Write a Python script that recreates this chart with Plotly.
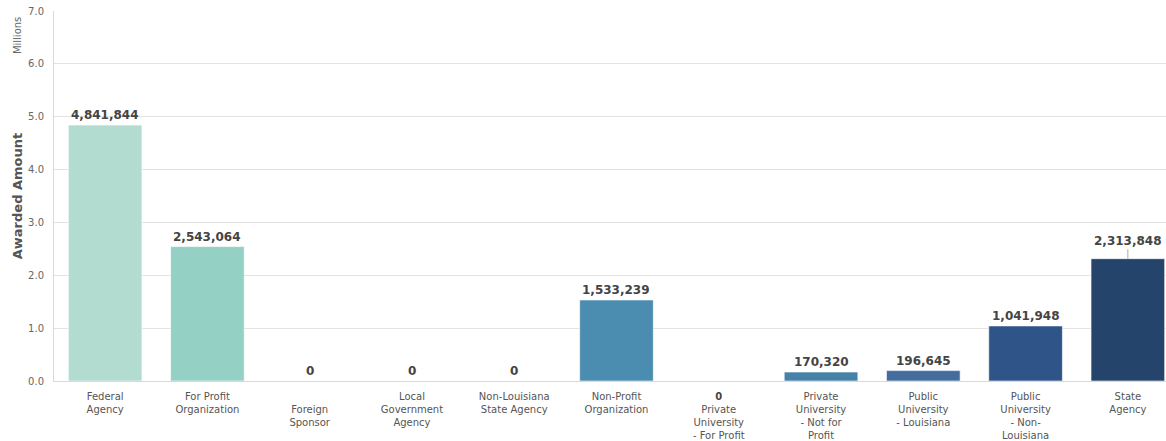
import plotly.graph_objects as go

categories = ["Federal Agency", "For Profit Organization", "Foreign Sponsor",
              "Local Government Agency", "Non-Louisiana State Agency",
              "Non-Profit Organization", "Private University - For Profit",
              "Private University - Not for Profit", "Public University - Louisiana",
              "Public University - Non-Louisiana", "State Agency"]
values = [4841844, 2543064, 0, 0, 0, 1533239, 0, 170320, 196645, 1041948, 2313848]
tick_labels = ["Federal<br>Agency", "For Profit<br>Organization", " <br>Foreign<br>Sponsor",
               "Local<br>Government<br>Agency", "Non-Louisiana<br>State Agency",
               "Non-Profit<br>Organization",
               "<span style='color:#444444'><b>0</b></span><br>Private<br>University<br>- For Profit",
               "Private<br>University<br>- Not for<br>Profit", "Public<br>University<br>- Louisiana",
               "Public<br>University<br>- Non-<br>Louisiana", "State<br>Agency"]
colors = ["#b1dccf", "#95d0c5", "#8ecac0", "#7fbfba", "#6aaeb5", "#4b8db0",
          "#4a88ae", "#4682a8", "#436d9c", "#2f5488", "#24446c"]
label_in_tick = [False, False, False, False, False, False, True, False, False, False, False]
leader_line = [False, False, False, False, False, False, False, False, False, False, True]

FONT = "DejaVu Sans, Verdana, sans-serif"
xs = list(range(len(categories)))
ym = [v / 1e6 for v in values]

fig = go.Figure()
fig.add_trace(go.Bar(
    x=xs, y=ym, width=0.72,
    marker=dict(color=colors, line=dict(color="rgba(255,255,255,0.6)", width=1)),
    hovertext=categories, hoverinfo="text+y",
))

annotations = []
for i, v in enumerate(values):
    if label_in_tick[i]:
        continue
    txt = "<b>{:,}</b>".format(v)
    if leader_line[i]:
        annotations.append(dict(x=xs[i], y=ym[i], xref="x", yref="y", text=txt,
                                showarrow=True, arrowhead=0, arrowwidth=1, arrowcolor="#aaaaaa",
                                ax=0, ay=-18, standoff=0,
                                font=dict(family=FONT, size=12, color="#444444")))
    else:
        annotations.append(dict(x=xs[i], y=ym[i], xref="x", yref="y", text=txt,
                                showarrow=False, yanchor="bottom", yshift=1,
                                font=dict(family=FONT, size=12, color="#444444")))

annotations.append(dict(x=-0.033, y=0.933, xref="paper", yref="paper", text="Millions",
                        showarrow=False, textangle=-90, xanchor="center", yanchor="middle",
                        font=dict(family=FONT, size=10, color="#666666")))

fig.update_layout(
    width=1166, height=441,
    margin=dict(l=54, r=0, t=11, b=60, autoexpand=False),
    paper_bgcolor="white", plot_bgcolor="white",
    showlegend=False,
    font=dict(family=FONT, size=10, color="#555555"),
    annotations=annotations,
)
fig.update_xaxes(
    tickmode="array", tickvals=xs, ticktext=tick_labels,
    range=[-0.5, 10.373], showgrid=False, zeroline=False,
    showline=True, linecolor="#d9d9d9", linewidth=1,
    ticks="", ticklabelstandoff=6,
    tickfont=dict(family=FONT, size=10, color="#555555"),
    fixedrange=True,
)
fig.update_yaxes(
    range=[0, 7], dtick=1, tickformat=".1f",
    showgrid=True, gridcolor="#e3e3e3", gridwidth=1,
    zeroline=False, showline=True, linecolor="#d9d9d9", linewidth=1,
    ticks="", ticklabelstandoff=7,
    tickfont=dict(family=FONT, size=10, color="#666666"),
    title=dict(text="<b>Awarded Amount</b>", font=dict(family=FONT, size=13, color="#555555"), standoff=2),
)

fig.write_html(
    "out.html",
    config={"displayModeBar": False},
    post_script="document.body.style.margin='0';document.body.style.overflow='hidden';",
)
